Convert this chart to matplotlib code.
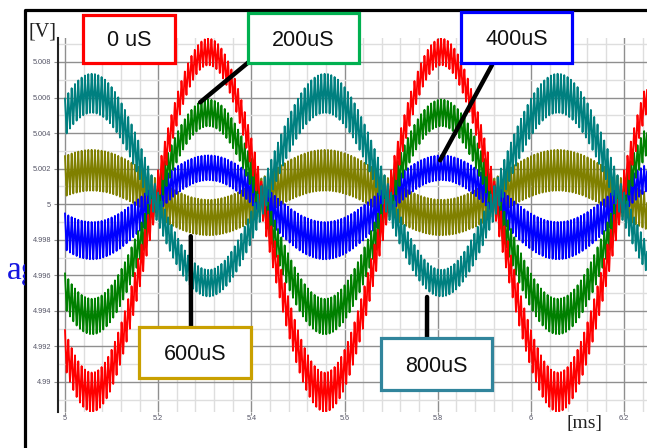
import numpy as np
import matplotlib
matplotlib.use('Agg')
import matplotlib.pyplot as plt
from matplotlib.patches import Rectangle
from matplotlib.lines import Line2D
from matplotlib.transforms import Bbox

# 各延时下的波形参数
labels = ['0 uS', '200uS', '400uS', '600uS', '800uS']
trace_colors = ['#ff0000', '#008000', '#0000ff', '#808000', '#008080']
box_colors = ['#ff0000', '#00b050', '#0000ff', '#c9a000', '#31859c']
amps = [0.00957, 0.00573, 0.00205, -0.00133, -0.00534]      # V
offsets = [4.99900, 4.99941, 5.00000, 5.00058, 5.00090]     # V
ripple_hi = [0.0022, 0.0020, 0.0021, 0.0023, 0.0022]        # V pp
ripple_lo = [0.0015, 0.0015, 0.0014, 0.0020, 0.0015]        # V pp
t_peak = 5.308       # ms
period = 0.5         # ms
ripple_freq = 140.0  # 1/ms

xticks = [5, 5.2, 5.4, 5.6, 5.8, 6, 6.2]
xticklabels = ['5', '5.2', '5.4', '5.6', '5.8', '6', '6.2']
yticks = [4.99, 4.992, 4.994, 4.996, 4.998, 5.0, 5.002, 5.004, 5.006, 5.008]
yticklabels = ['4.99', '4.992', '4.994', '4.996', '4.998', '5', '5.002', '5.004', '5.006', '5.008']

# 标注: 指向点 (t, V)
point_at = [None, (5.29, 5.00573), (5.805, 5.00247), (5.27, 4.9982), (5.777, 4.99478)]

W, H = 647, 448


def fx(x):
    return x / W


def fy(y):
    return 1 - y / H


fig = plt.figure(figsize=(W / 100, H / 100), dpi=100)
ax = fig.add_axes([fx(58), fy(412), fx(647 - 58), (412 - 38) / H])

t = np.linspace(5.0, 6.25, 60000)
s = np.cos(2 * np.pi * (t - t_peak) / period)
tri = 2 * np.abs(2 * ((t * ripple_freq) % 1) - 1) - 1

order = [3, 2, 1, 0, 4]
for i in order:
    pp = (ripple_hi[i] + ripple_lo[i]) / 2 - (ripple_hi[i] - ripple_lo[i]) / 2 * s
    v = offsets[i] + amps[i] * s + 0.5 * pp * tri
    ax.plot(t, v, color=trace_colors[i], lw=1.3, zorder=3 + order.index(i))

ax.set_xlim(4.985, 6.249)
ax.set_ylim(4.98831, 5.00935)
ax.set_xticks(xticks)
ax.set_xticklabels(xticklabels)
ax.set_yticks(yticks)
ax.set_yticklabels(yticklabels)
ax.set_xticks(np.arange(5.0, 6.25, 0.04), minor=True)
ax.set_yticks(np.arange(4.989, 5.0095, 0.001), minor=True)
ax.grid(which='major', color='#8f8f8f', lw=1.0, zorder=1)
ax.grid(which='minor', color='#dedede', lw=1.0, zorder=0)
ax.set_axisbelow(True)
for side in ['top', 'right', 'bottom']:
    ax.spines[side].set_visible(False)
ax.spines['left'].set_color('#222222')
ax.spines['left'].set_linewidth(1.5)
ax.tick_params(which='both', labelsize=5.3, labelcolor='#555566', color='#8f8f8f',
               length=3, width=0.8)
ax.tick_params(which='minor', length=0)
ax.tick_params(axis='y', pad=2)
ax.tick_params(axis='x', length=2, pad=0)
for lab in ax.get_xticklabels() + ax.get_yticklabels():
    lab.set_family('Liberation Sans')

# 轴单位
fig.text(fx(28), fy(37), '[V]', family='Liberation Serif', size=14.5, color='#222222',
         ha='left', va='baseline')
fig.text(fx(566), fy(428), '[ms]', family='Liberation Serif', size=14, color='#222222',
         ha='left', va='baseline')

# 被边框截断的蓝色文字
ag = fig.text(fx(7), fy(279), 'ag', family='Liberation Serif', size=24, color='#1515e0',
              ha='left', va='baseline')
ag.set_clip_box(Bbox([[0, 0], [25, H]]))
ag.set_clip_on(True)

# 外边框
fig.add_artist(Line2D([fx(25.5), fx(25.5), fx(W)], [0, fy(10.5), fy(10.5)],
                      transform=fig.transFigure, color='k', lw=2.3))

# 标注框 (左上角 x, y, 宽, 高, 像素)
boxes = [(83, 15, 92, 48), (248, 13, 111, 50), (461, 12, 111, 51),
         (139, 327, 112, 51), (381, 338, 111, 52)]
anchors = [None, (250, 61), (492, 65), (191, 327), (427, 338)]
for i, (bx, by, bw, bh) in enumerate(boxes):
    if point_at[i] is not None:
        ax.annotate('', xy=point_at[i], xycoords='data',
                    xytext=(anchors[i][0], H - anchors[i][1]), textcoords='figure pixels',
                    arrowprops=dict(arrowstyle='-', lw=3.2, color='k',
                                    shrinkA=0, shrinkB=0), zorder=20,
                    annotation_clip=False)
    fig.add_artist(Rectangle((fx(bx), fy(by + bh)), bw / W, bh / H,
                             transform=fig.transFigure, facecolor='white',
                             edgecolor=box_colors[i], lw=2.3, zorder=30))
    fig.text(fx(bx + bw / 2), fy(by + bh / 2 + 2), labels[i], family='Liberation Sans',
             size=15.5, color='#111111', ha='center', va='center', zorder=31)

fig.savefig('out.png', dpi=100)
